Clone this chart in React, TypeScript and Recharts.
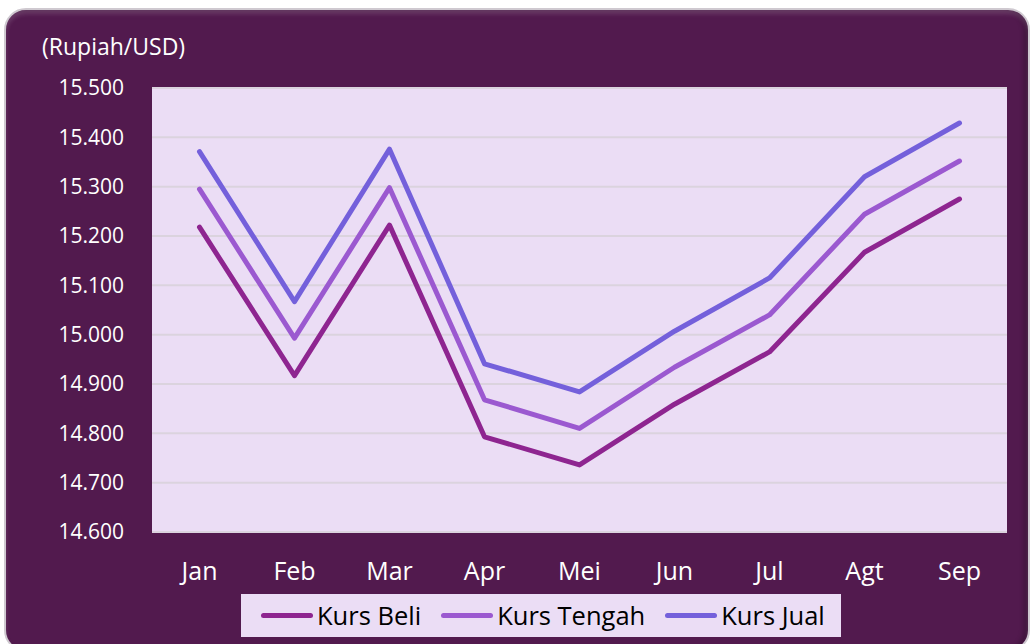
import { LineChart, Line, XAxis, YAxis, CartesianGrid } from 'recharts';

const months = ['Jan', 'Feb', 'Mar', 'Apr', 'Mei', 'Jun', 'Jul', 'Agt', 'Sep'];
const kursBeli = [15218, 14917, 15222, 14793, 14736, 14859, 14965, 15167, 15275];
const kursTengah = [15295, 14993, 15298, 14868, 14810, 14934, 15040, 15244, 15352];
const kursJual = [15371, 15067, 15376, 14941, 14884, 15007, 15115, 15320, 15429];
const yTicks = [14600, 14700, 14800, 14900, 15000, 15100, 15200, 15300, 15400, 15500];

const SERIES = [
    { key: 'beli', name: 'Kurs Beli', color: '#8E2590' },
    { key: 'tengah', name: 'Kurs Tengah', color: '#9B59D0' },
    { key: 'jual', name: 'Kurs Jual', color: '#7460DB' },
];

const FONT = '"Open Sans", sans-serif';

const data = months.map((m, i) => ({
    month: m,
    beli: kursBeli[i],
    tengah: kursTengah[i],
    jual: kursJual[i],
}));

const formatTick = (v: number) => (v / 1000).toFixed(3);

export default function App() {
    return (
        <div style={{ position: 'absolute', left: 0, top: 0, width: 1033, height: 644, background: '#fff', overflow: 'hidden', fontFamily: FONT }}>
            {/* frame */}
            <div
                style={{
                    position: 'absolute', left: 4, top: 8, width: 1022, height: 640,
                    background: '#521A4E', borderRadius: 22, border: '2px solid #CFC9D0',
                    boxShadow: 'inset 0 4px 4px rgba(255,255,255,0.15), inset -4px 0 5px rgba(0,0,0,0.25)',
                }}
            />
            <div style={{ position: 'absolute', left: 42, top: 31, color: '#fff', fontSize: 23, lineHeight: '30px' }}>
                (Rupiah/USD)
            </div>
            <div style={{ position: 'absolute', left: 0, top: 0 }}>
                <LineChart width={1033} height={644} data={data} margin={{ top: 88, right: 26, bottom: 82, left: 52 }}>
                    <CartesianGrid vertical={false} stroke="#DBD3DE" strokeWidth={2} fill="#EBDDF5" />
                    <XAxis
                        dataKey="month"
                        axisLine={false}
                        tickLine={false}
                        tickSize={0}
                        tickMargin={30}
                        padding={{ left: 47.5, right: 47.5 }}
                        tick={{ fill: '#fff', fontSize: 25, fontFamily: FONT }}
                    />
                    <YAxis
                        width={100}
                        domain={[14600, 15500]}
                        ticks={yTicks}
                        tickFormatter={formatTick}
                        axisLine={false}
                        tickLine={false}
                        tickSize={0}
                        tickMargin={28}
                        tick={{ fill: '#fff', fontSize: 21, fontFamily: FONT }}
                    />
                    {SERIES.map(s => (
                        <Line
                            key={s.key}
                            dataKey={s.key}
                            name={s.name}
                            stroke={s.color}
                            strokeWidth={5}
                            strokeLinecap="round"
                            strokeLinejoin="round"
                            dot={false}
                            activeDot={false}
                            type="linear"
                            isAnimationActive={false}
                        />
                    ))}
                </LineChart>
            </div>
            {/* legend */}
            <div
                style={{
                    position: 'absolute', left: 241, top: 594, width: 600, height: 43,
                    background: '#EBDDF5', display: 'flex', alignItems: 'center', paddingLeft: 20,
                    boxSizing: 'border-box', whiteSpace: 'nowrap',
                }}
            >
                {SERIES.map((s, i) => (
                    <div key={s.key} style={{ display: 'flex', alignItems: 'center', flexShrink: 0, marginRight: i < SERIES.length - 1 ? 20 : 0 }}>
                        <div style={{ width: 52, height: 5, borderRadius: 3, background: s.color, marginRight: 4, flexShrink: 0 }} />
                        <span style={{ fontSize: 25.5, color: '#000', lineHeight: '43px', whiteSpace: 'nowrap' }}>{s.name}</span>
                    </div>
                ))}
            </div>
        </div>
    );
}
